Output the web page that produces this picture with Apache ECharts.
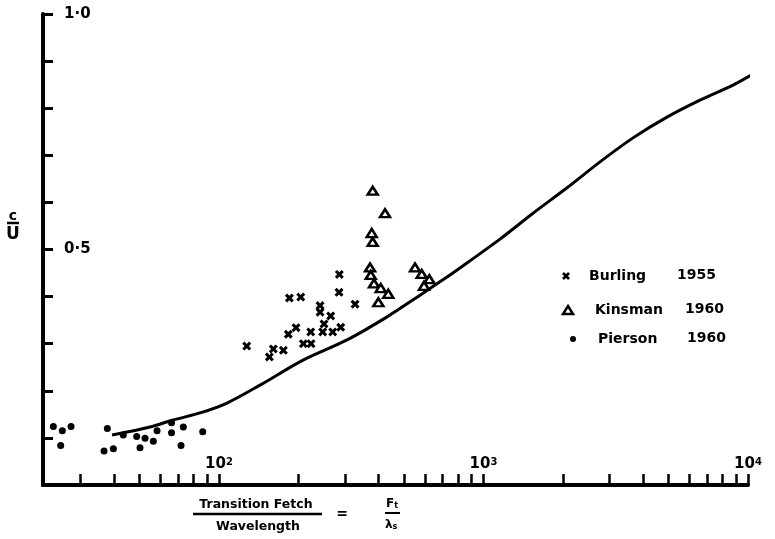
<!DOCTYPE html>
<html><head><meta charset="utf-8">
<script src="https://cdn.jsdelivr.net/npm/echarts@6/dist/echarts.min.js"></script>
<style>html,body{margin:0;padding:0;background:#fff}#c{width:775px;height:539px}</style>
</head><body><div id="c"></div>
<script>
// ---- data ----
const curveX = [39.4, 54.8, 67.0, 84.8, 107.2, 142.9, 207.8, 304.8, 431.8, 575.3, 746.9, 873.7, 1154, 1539, 2069, 2757, 3675, 4940, 6584, 8776, 10630];
const curveY = [0.106, 0.123, 0.138, 0.153, 0.174, 0.212, 0.265, 0.308, 0.357, 0.403, 0.446, 0.473, 0.522, 0.577, 0.631, 0.686, 0.737, 0.781, 0.817, 0.849, 0.875];

const burlingX = [127.3, 155.0, 160.4, 175.1, 184.5, 203.7, 182.8, 195.5, 208.4, 222.8, 222.2, 241.0, 241.0, 264.4, 249.5, 246.6, 269.1, 288.5, 285.0, 284.3, 326.8];
const burlingY = [0.295, 0.272, 0.289, 0.286, 0.397, 0.399, 0.320, 0.334, 0.300, 0.300, 0.325, 0.381, 0.367, 0.359, 0.342, 0.325, 0.325, 0.335, 0.447, 0.409, 0.384];

const kinsmanX = [381.1, 424.3, 377.8, 381.1, 372.4, 374.6, 385.5, 408.7, 436.5, 400.3, 550.8, 583.9, 623.9, 595.7];
const kinsmanY = [0.625, 0.577, 0.535, 0.516, 0.462, 0.446, 0.428, 0.418, 0.406, 0.388, 0.462, 0.448, 0.437, 0.423];

const piersonX = [23.63, 25.56, 27.57, 25.20, 37.82, 36.75, 39.85, 43.46, 48.84, 52.51, 56.44, 58.30, 50.26, 66.14, 66.14, 73.28, 71.83, 86.77];
const piersonY = [0.124, 0.115, 0.124, 0.084, 0.120, 0.072, 0.077, 0.106, 0.103, 0.099, 0.093, 0.115, 0.079, 0.111, 0.132, 0.123, 0.084, 0.113];

const xTickValues = [30, 40, 50, 60, 70, 80, 90, 100, 200, 300, 400, 500, 600, 700, 800, 900, 1000, 2000, 3000, 4000, 5000, 6000, 7000, 8000, 9000, 10000];
const xLabelValues = [100, 1000, 10000];
const yLabelValues = [0.5, 1.0];

const legendNames = ['Burling', 'Kinsman', 'Pierson'];
const legendYears = ['1955', '1960', '1960'];

function pairs(xs, ys) { return xs.map((x, i) => [x, ys[i]]); }

const FONT = 'DejaVu Sans';
const crossPath = 'path://M0,2.4L2.4,0L5,2.6L7.6,0L10,2.4L7.4,5L10,7.6L7.6,10L5,7.4L2.4,10L0,7.6L2.6,5Z';

const chart = echarts.init(document.getElementById('c'), null, {renderer: 'canvas'});

function crossPoints(cx, cy, s) {
  const p = [[-5,-2.6],[-2.6,-5],[0,-2.4],[2.6,-5],[5,-2.6],[2.4,0],[5,2.6],[2.6,5],[0,2.4],[-2.6,5],[-5,2.6],[-2.4,0]];
  return p.map(q => [cx + q[0] * s, cy + q[1] * s]);
}

const txt = (x, y, text, size, align) => ({
  type: 'text', x: x, y: y,
  style: { text: text, fontFamily: FONT, fontWeight: 'bold', fontSize: size, fill: '#000', align: align || 'left', verticalAlign: 'middle' }
});

const legendRows = [276, 310, 339];
const legendTextX = [589, 595, 598];
const legendYearX = [677, 685, 687];

const graphics = [
  // y axis name  c / U
  txt(13, 216, 'c', 14, 'center'),
  { type: 'line', shape: { x1: 7, y1: 223, x2: 19, y2: 223 }, style: { stroke: '#000', lineWidth: 2.5 } },
  txt(13, 235, 'U', 17, 'center'),
  // x axis name
  txt(256, 505, 'Transition Fetch', 12.5, 'center'),
  { type: 'line', shape: { x1: 193, y1: 514, x2: 322, y2: 514 }, style: { stroke: '#000', lineWidth: 2.5 } },
  txt(258, 527, 'Wavelength', 12.5, 'center'),
  txt(342, 514, '=', 14, 'center'),
  { type: 'text', x: 386, y: 504, style: { rich: { a: { fontFamily: FONT, fontWeight: 'bold', fontSize: 12 }, b: { fontFamily: FONT, fontWeight: 'bold', fontSize: 8, verticalAlign: 'bottom' } }, text: '{a|F}{b|t}', fill: '#000', verticalAlign: 'middle' } },
  { type: 'line', shape: { x1: 385, y1: 513, x2: 400, y2: 513 }, style: { stroke: '#000', lineWidth: 2 } },
  { type: 'text', x: 385, y: 525, style: { rich: { a: { fontFamily: FONT, fontWeight: 'bold', fontSize: 12 }, b: { fontFamily: FONT, fontWeight: 'bold', fontSize: 8, verticalAlign: 'bottom' } }, text: '{a|λ}{b|s}', fill: '#000', verticalAlign: 'middle' } },
  // legend
  { type: 'polygon', shape: { points: crossPoints(566, legendRows[0], 0.8) }, style: { fill: '#000' } },
  { type: 'polygon', shape: { points: [[568, legendRows[1] - 4], [573, legendRows[1] + 4], [563, legendRows[1] + 4]] }, style: { fill: '#fff', stroke: '#000', lineWidth: 2.5 } },
  { type: 'circle', shape: { cx: 573, cy: legendRows[2], r: 3 }, style: { fill: '#000' } }
];
legendNames.forEach((n, i) => {
  graphics.push(txt(legendTextX[i], legendRows[i], n, 14));
  graphics.push(txt(legendYearX[i], legendRows[i] - 1, legendYears[i], 14));
});

const option = {
  animation: false,
  backgroundColor: '#fff',
  grid: { left: 43, right: 27, top: 14, bottom: 54 },
  xAxis: {
    type: 'log', logBase: 10, min: 21.6, max: 10000,
    axisLine: { show: true, lineStyle: { color: '#000', width: 4 } },
    axisTick: { show: true, inside: true, length: 11, customValues: xTickValues, lineStyle: { color: '#000', width: 2.5 } },
    minorTick: { show: false },
    splitLine: { show: false },
    axisLabel: {
      show: true, inside: true, margin: 13, customValues: xLabelValues,
      formatter: v => '{b|10}{s|' + Math.round(Math.log10(v)) + '}',
      rich: {
        b: { fontFamily: FONT, fontWeight: 'bold', fontSize: 15, color: '#000' },
        s: { fontFamily: FONT, fontWeight: 'bold', fontSize: 10, color: '#000', verticalAlign: 'top' }
      }
    }
  },
  yAxis: {
    type: 'value', min: 0, max: 1, interval: 0.1,
    axisLine: { show: true, lineStyle: { color: '#000', width: 4 } },
    axisTick: { show: true, inside: true, length: 10, lineStyle: { color: '#000', width: 3 } },
    splitLine: { show: false },
    axisLabel: {
      show: true, inside: true, margin: 21, customValues: yLabelValues,
      formatter: v => v.toFixed(1).replace('.', '·'),
      fontFamily: FONT, fontWeight: 'bold', fontSize: 15, color: '#000'
    }
  },
  series: [
    { name: 'curve', type: 'line', data: pairs(curveX, curveY), showSymbol: false, smooth: 0.3, clip: false,
      lineStyle: { color: '#000', width: 3 }, z: 2 },
    { name: 'Burling 1955', type: 'scatter', data: pairs(burlingX, burlingY), symbol: crossPath, symbolSize: 9,
      itemStyle: { color: '#000', opacity: 1 }, z: 3 },
    { name: 'Kinsman 1960', type: 'scatter', data: pairs(kinsmanX, kinsmanY), symbol: 'triangle', symbolSize: [10, 8],
      itemStyle: { color: '#fff', borderColor: '#000', borderWidth: 2.5, opacity: 1 }, z: 3 },
    { name: 'Pierson 1960', type: 'scatter', data: pairs(piersonX, piersonY), symbol: 'circle', symbolSize: 7,
      itemStyle: { color: '#000', opacity: 1 }, z: 3 }
  ],
  graphic: graphics
};
chart.setOption(option);
</script>
</body></html>
